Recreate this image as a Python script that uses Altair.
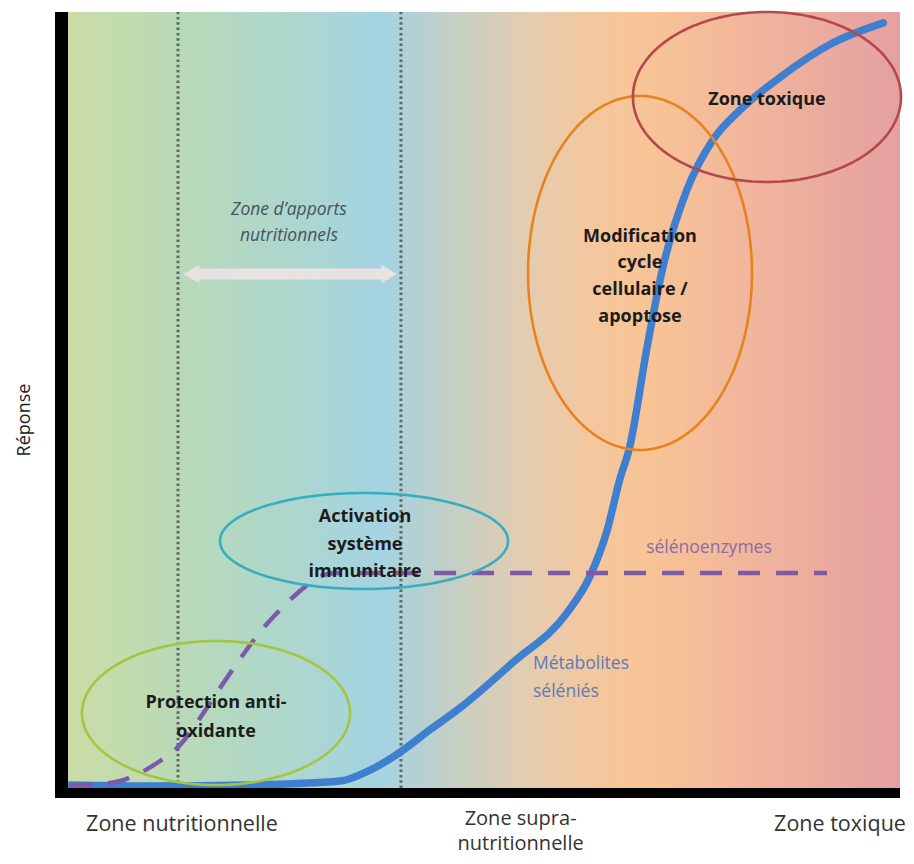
import altair as alt
import pandas as pd
import numpy as np

# ---------------- data (x: dose scale 0-100, y: response 0-100) ----------------
blue_x = [0.24, 9.86, 21.9, 32.7, 36.3, 39.9, 43.5, 47.1, 53.5, 60.0, 62.7, 64.8,
          66.3, 67.5, 69.6, 71.5, 74.4, 77.5, 80.8, 85.6, 91.9, 98.0]
blue_y = [0.39, 0.26, 0.39, 0.9, 2.3, 4.6, 7.5, 10.3, 16.2, 22.6, 27.2, 33.2,
          39.7, 43.9, 56.8, 67.1, 77.1, 83.5, 87.4, 91.6, 96.0, 98.6]

purple_x = [0.24, 3.85, 6.25, 8.65, 11.06, 13.46, 15.87, 18.27, 20.67, 23.08,
            25.48, 27.88, 29.93, 32.09, 91.23]
purple_y = [0.39, 0.52, 0.9, 1.93, 3.48, 5.54, 9.02, 12.89, 16.62, 20.1,
            22.94, 25.39, 27.06, 27.71, 27.71]

ell_names = ["antioxydant", "immunitaire", "apoptose", "toxique"]
ell_cx = [17.79, 35.58, 68.75, 84.01]
ell_cy = [9.66, 31.83, 66.37, 89.05]
ell_rx = [16.11, 17.31, 13.46, 16.11]
ell_ry = [9.28, 6.19, 22.81, 10.95]
ell_colors = ["#a2c63f", "#38adbe", "#e8821f", "#b4484c"]

zone_bounds_x = [13.22, 40.02]
arrow_x = [14.83, 38.58]
arrow_y = 66.24

bold_texts = ["Protection anti-", "oxidante",
              "Activation", "système", "immunitaire",
              "Modification", "cycle", "cellulaire /", "apoptose",
              "Zone toxique"]
bold_x = [17.79, 17.79, 35.70, 35.70, 35.70, 68.75, 68.75, 68.75, 68.75, 84.01]
bold_y = [10.95, 7.22, 34.92, 31.31, 27.84, 71.01, 67.65, 64.18, 60.70, 88.66]

italic_texts = ["Zone d’apports", "nutritionnels"]
italic_x = [26.56, 26.56]
italic_y = [74.48, 71.13]

seleno_text = ["sélénoenzymes"]
seleno_x = [77.04]
seleno_y = [30.93]

metab_texts = ["Métabolites", "séléniés"]
metab_x = [55.89, 55.89]
metab_y = [15.98, 12.37]

cat_texts = ["Zone nutritionnelle", "Zone toxique"]
cat_x = [13.70, 92.79]
cat_y = [-5.54, -5.54]

supra_texts = ["Zone supra-\nnutritionnelle"]
supra_x = [54.4]
supra_y = [-4.77]

ylabel = ["Réponse"]
ylabel_x = [-5.17]
ylabel_y = [47.42]

# ---------------- styles ----------------
FONT = "Open Sans"
grad_offsets = [0.0, 0.132, 0.279, 0.375, 0.423, 0.483, 0.555, 0.639, 0.70, 0.832, 1.0]
grad_colors = ["#cbdca5", "#b9dab8", "#acd6cf", "#a4d4e2", "#b5d0d2", "#cccfbf",
               "#e5ccaf", "#f5c69c", "#f8c496", "#f0b49c", "#e4a0a0"]

X = alt.Scale(domain=[0, 100], nice=False, zero=False)
Y = alt.Scale(domain=[0, 100], nice=False, zero=False)


def xq(f):
    return alt.X(f, type="quantitative", scale=X, axis=None)


def yq(f):
    return alt.Y(f, type="quantitative", scale=Y, axis=None)


# frame extents (data units): plot area 0..100, black axis bars just outside
frame = pd.DataFrame({
    "part": ["bg", "left", "bottom"],
    "x0": [0, -1.56, -1.56], "x1": [100, 0, 100],
    "y0": [0, -1.29, -1.29], "y1": [100, 100, 0],
})

gradient = alt.Gradient(
    gradient="linear",
    stops=[alt.GradientStop(offset=o, color=c) for o, c in zip(grad_offsets, grad_colors)],
    x1=0, x2=1, y1=0, y2=0,
)
bg = alt.Chart(frame[frame.part == "bg"]).mark_rect(fill=gradient).encode(
    x=xq("x0"), x2="x1", y=yq("y0"), y2="y1"
)
bars = alt.Chart(frame[frame.part != "bg"]).mark_rect(color="black").encode(
    x=xq("x0"), x2="x1", y=yq("y0"), y2="y1"
)

# ---------------- dotted zone boundaries ----------------
zones = alt.Chart(pd.DataFrame({"x": zone_bounds_x, "y0": [0, 0], "y1": [100, 100]})).mark_rule(
    color="#5f6767", strokeWidth=3, strokeDash=[2.5, 2.8]
).encode(x=xq("x"), y=yq("y0"), y2="y1")

# ---------------- double arrow ----------------
arrow_df = pd.DataFrame({"x": arrow_x, "y": [arrow_y, arrow_y],
                         "shape": ["triangle-left", "triangle-right"]})
arrow_shaft = alt.Chart(arrow_df).mark_line(color="#e9e2e3", strokeWidth=11).encode(
    x=xq("x"), y=yq("y")
)
arrow_heads = alt.Chart(arrow_df).mark_point(
    filled=True, color="#e9e2e3", opacity=1, size=330
).encode(x=xq("x"), y=yq("y"), shape=alt.Shape("shape:N", scale=None, legend=None))

# ---------------- curves ----------------
blue = alt.Chart(pd.DataFrame({"x": blue_x, "y": blue_y})).mark_line(
    color="#3f7fd0", strokeWidth=7.5, interpolate="monotone", strokeCap="round"
).encode(x=xq("x"), y=yq("y"))

purple = alt.Chart(pd.DataFrame({"x": purple_x, "y": purple_y})).mark_line(
    color="#7b5ba8", strokeWidth=4.5, interpolate="monotone", strokeDash=[22, 16]
).encode(x=xq("x"), y=yq("y"))

# ---------------- ellipses ----------------
theta = np.linspace(0, 2 * np.pi, 181)
rows = []
for n, cx, cy, rx, ry in zip(ell_names, ell_cx, ell_cy, ell_rx, ell_ry):
    for i, t in enumerate(theta):
        rows.append({"name": n, "i": i, "x": cx + rx * np.cos(t), "y": cy + ry * np.sin(t)})
ell_df = pd.DataFrame(rows)
ellipses = alt.Chart(ell_df).mark_line(strokeWidth=2.6).encode(
    x=xq("x"), y=yq("y"),
    detail="name:N",
    order=alt.Order("i:Q"),
    stroke=alt.Stroke("name:N", scale=alt.Scale(domain=ell_names, range=ell_colors), legend=None),
)

# ---------------- texts ----------------
bold = alt.Chart(pd.DataFrame({"t": bold_texts, "x": bold_x, "y": bold_y})).mark_text(
    font=FONT, fontSize=18, fontWeight="bold", color="#1c1c1c", align="center", baseline="middle"
).encode(x=xq("x"), y=yq("y"), text="t:N")

italic = alt.Chart(pd.DataFrame({"t": italic_texts, "x": italic_x, "y": italic_y})).mark_text(
    font=FONT, fontSize=17.5, fontStyle="italic", color="#46545e", align="center", baseline="middle"
).encode(x=xq("x"), y=yq("y"), text="t:N")

seleno = alt.Chart(pd.DataFrame({"t": seleno_text, "x": seleno_x, "y": seleno_y})).mark_text(
    font=FONT, fontSize=17.5, color="#8a6ca8", align="center", baseline="middle"
).encode(x=xq("x"), y=yq("y"), text="t:N")

metab = alt.Chart(pd.DataFrame({"t": metab_texts, "x": metab_x, "y": metab_y})).mark_text(
    font=FONT, fontSize=17.5, color="#5a7db6", align="left", baseline="middle"
).encode(x=xq("x"), y=yq("y"), text="t:N")

cats = alt.Chart(pd.DataFrame({"t": cat_texts, "x": cat_x, "y": cat_y})).mark_text(
    font=FONT, fontSize=21.5, color="#333333", align="center", baseline="alphabetic"
).encode(x=xq("x"), y=yq("y"), text="t:N")

supra = alt.Chart(pd.DataFrame({"t": supra_texts, "x": supra_x, "y": supra_y})).mark_text(
    font=FONT, fontSize=20, color="#333333", align="center", baseline="alphabetic",
    lineBreak="\n", lineHeight=25
).encode(x=xq("x"), y=yq("y"), text="t:N")

ytitle = alt.Chart(pd.DataFrame({"t": ylabel, "x": ylabel_x, "y": ylabel_y})).mark_text(
    font=FONT, fontSize=18, color="#222222", angle=270, align="center", baseline="middle"
).encode(x=xq("x"), y=yq("y"), text="t:N")

chart = alt.layer(
    bg, zones, arrow_shaft, arrow_heads, blue, purple, ellipses,
    bold, italic, seleno, metab, cats, supra, ytitle, bars,
).properties(
    width=832, height=776,
    autosize=alt.AutoSizeParams(type="none"),
    padding={"left": 60, "top": 4, "right": 6, "bottom": 68},
).configure_view(stroke=None)

chart.save("out.html", embed_options={"renderer": "svg", "actions": False})
